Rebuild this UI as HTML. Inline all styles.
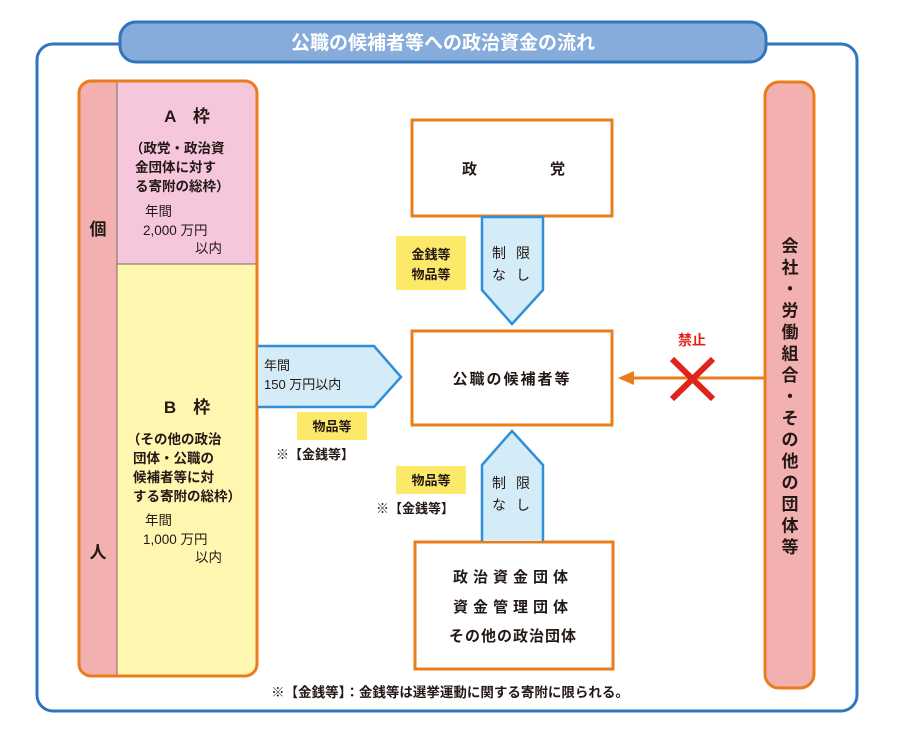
<!DOCTYPE html>
<html><head><meta charset="utf-8"><style>
body{margin:0;background:#fff}
svg text{font-family:"Liberation Sans","Noto Sans CJK JP",sans-serif;font-weight:bold;fill:#231815}
</style></head><body>
<svg width="900" height="739" viewBox="0 0 900 739" xmlns="http://www.w3.org/2000/svg">
<rect x="37" y="44" width="820" height="667" rx="16" fill="#fff" stroke="#2f75c0" stroke-width="3"/>
<rect x="120" y="22" width="646" height="40" rx="16" fill="#86acdc" stroke="#2f75c0" stroke-width="3"/>
<text x="443" y="49" font-size="19" text-anchor="middle" style="fill:#fff">公職の候補者等への政治資金の流れ</text>

<rect x="79" y="81" width="178" height="595" rx="12" fill="#fff7b0"/>
<path d="M117 81 H245 A12 12 0 0 1 257 93 V264 H117 Z" fill="#f5c6dc"/>
<path d="M91 81 H117 V676 H91 A12 12 0 0 1 79 664 V93 A12 12 0 0 1 91 81 Z" fill="#f2b0b0"/>
<line x1="117" y1="81" x2="117" y2="676" stroke="#7a6a60" stroke-width="1"/>
<line x1="117" y1="264" x2="257" y2="264" stroke="#7a6a60" stroke-width="1"/>
<rect x="79" y="81" width="178" height="595" rx="12" fill="none" stroke="#ea7d1b" stroke-width="3"/>
<text x="98" y="235" font-size="17" text-anchor="middle">個</text>
<text x="98" y="558" font-size="17" text-anchor="middle">人</text>
<text x="187" y="122" font-size="17" text-anchor="middle">A　枠</text>
<text x="130" y="153" font-size="13.5">（政党・政治資</text>
<text x="135" y="172" font-size="13.5">金団体に対す</text>
<text x="135" y="191" font-size="13.5">る寄附の総枠）</text>
<text x="145" y="216" font-size="13.5" style="font-weight:normal">年間</text>
<text x="143" y="235" font-size="13.5" style="font-weight:normal">2,000 万円</text>
<text x="195" y="253" font-size="13.5" style="font-weight:normal">以内</text>
<text x="187" y="413" font-size="17" text-anchor="middle">B　枠</text>
<text x="127" y="444" font-size="13.5">（その他の政治</text>
<text x="133" y="463" font-size="13.5">団体・公職の</text>
<text x="133" y="482" font-size="13.5">候補者等に対</text>
<text x="133" y="501" font-size="13.5">する寄附の総枠）</text>
<text x="145" y="525" font-size="13.5" style="font-weight:normal">年間</text>
<text x="143" y="544" font-size="13.5" style="font-weight:normal">1,000 万円</text>
<text x="195" y="562" font-size="13.5" style="font-weight:normal">以内</text>

<rect x="412" y="120" width="200" height="96" fill="#fff" stroke="#ea7d1b" stroke-width="3"/>
<text x="462" y="174" font-size="15">政</text><text x="550" y="174" font-size="15">党</text>
<rect x="412" y="331" width="200" height="94" fill="#fff" stroke="#ea7d1b" stroke-width="3"/>
<text x="512" y="384" font-size="15" text-anchor="middle" letter-spacing="2">公職の候補者等</text>
<rect x="415" y="542" width="198" height="127" fill="#fff" stroke="#ea7d1b" stroke-width="3"/>
<text x="513" y="582" font-size="15" text-anchor="middle" letter-spacing="5">政治資金団体</text>
<text x="513" y="612" font-size="15" text-anchor="middle" letter-spacing="5">資金管理団体</text>
<text x="513" y="641" font-size="15" text-anchor="middle" letter-spacing="1">その他の政治団体</text>

<path d="M482 217 V290 L512 324 L543 290 V217 Z" fill="#d4ebf8" stroke="#2f8fd8" stroke-width="2.5"/>
<text x="492" y="258" font-size="14" style="font-weight:normal">制</text><text x="516" y="258" font-size="14" style="font-weight:normal">限</text>
<text x="492" y="280" font-size="14" style="font-weight:normal">な</text><text x="516" y="280" font-size="14" style="font-weight:normal">し</text>
<path d="M482 541 V465 L512 431 L543 465 V541" fill="#d4ebf8" stroke="#2f8fd8" stroke-width="2.5"/>
<text x="492" y="488" font-size="14" style="font-weight:normal">制</text><text x="516" y="488" font-size="14" style="font-weight:normal">限</text>
<text x="492" y="510" font-size="14" style="font-weight:normal">な</text><text x="516" y="510" font-size="14" style="font-weight:normal">し</text>
<path d="M258 346 H374 L401 377 L374 407 H258" fill="#d4ebf8" stroke="#2f8fd8" stroke-width="2.5"/>
<text x="264" y="370" font-size="13" style="font-weight:normal">年間</text>
<text x="264" y="389" font-size="13" style="font-weight:normal">150 万円以内</text>

<rect x="396" y="236" width="70" height="54" fill="#fce96a"/>
<text x="431" y="259" font-size="13" text-anchor="middle">金銭等</text>
<text x="431" y="279" font-size="13" text-anchor="middle">物品等</text>
<rect x="297" y="412" width="70" height="28" fill="#fce96a"/>
<text x="332" y="431" font-size="13" text-anchor="middle">物品等</text>
<text x="276" y="459" font-size="13">※【金銭等】</text>
<rect x="396" y="466" width="70" height="28" fill="#fce96a"/>
<text x="431" y="485" font-size="13" text-anchor="middle">物品等</text>
<text x="376" y="513" font-size="13">※【金銭等】</text>

<rect x="765" y="82" width="49" height="606" rx="14" fill="#f2b0b0" stroke="#ea7d1b" stroke-width="3"/>
<g font-size="17" text-anchor="middle">
<text x="790" y="252">会</text><text x="790" y="273.5">社</text><text x="790" y="295">・</text>
<text x="790" y="316.5">労</text><text x="790" y="338">働</text><text x="790" y="359.5">組</text>
<text x="790" y="381">合</text><text x="790" y="402.5">・</text><text x="790" y="424">そ</text>
<text x="790" y="445.5">の</text><text x="790" y="467">他</text><text x="790" y="488.5">の</text>
<text x="790" y="510">団</text><text x="790" y="531.5">体</text><text x="790" y="553">等</text>
</g>
<line x1="764" y1="378" x2="630" y2="378" stroke="#ea7d1b" stroke-width="3"/>
<path d="M618 378 L634 371 L634 385 Z" fill="#ea7d1b"/>
<path d="M672 359 L713 399 M713 359 L672 399" stroke="#e0231c" stroke-width="6"/>
<text x="692" y="345" font-size="14" text-anchor="middle" style="fill:#e0231c">禁止</text>

<text x="450" y="697" font-size="13.5" text-anchor="middle">※【金銭等】：金銭等は選挙運動に関する寄附に限られる。</text>
</svg>
</body></html>
